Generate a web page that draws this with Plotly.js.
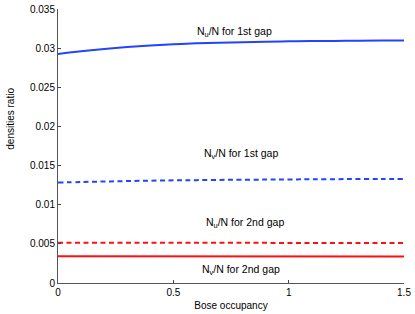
<!DOCTYPE html>
<html>
<head>
<meta charset="utf-8">
<script src="https://cdn.plot.ly/plotly-3.0.1.min.js"></script>
<style>html,body{margin:0;padding:0;background:#fff;}#chart{width:415px;height:314px;}</style>
</head>
<body>
<div id="chart"></div>
<script>
var occupancy = [0, 0.1, 0.2, 0.3, 0.4, 0.5, 0.6, 0.75, 0.9, 1.0, 1.1, 1.25, 1.4, 1.5];
var nu1st = [0.02925, 0.0296, 0.0299, 0.03015, 0.03035, 0.0305, 0.03062, 0.03073, 0.03082, 0.03087, 0.0309, 0.03094, 0.03097, 0.03098];
var nv1st = [0.01283, 0.0129, 0.01296, 0.01302, 0.01307, 0.01311, 0.01314, 0.01318, 0.01321, 0.01323, 0.01325, 0.01327, 0.01329, 0.0133];
var nu2nd = [0.00515, 0.00515, 0.00514, 0.00514, 0.00514, 0.00513, 0.00513, 0.00513, 0.00512, 0.00512, 0.00512, 0.00511, 0.00511, 0.00511];
var nv2nd = [0.00341, 0.00341, 0.00341, 0.00341, 0.00341, 0.0034, 0.0034, 0.0034, 0.0034, 0.0034, 0.0034, 0.0034, 0.0034, 0.0034];

var labelTexts = ["N<sub>u</sub>/N for 1st gap", "N<sub>v</sub>/N for 1st gap", "N<sub>u</sub>/N for 2nd gap", "N<sub>v</sub>/N for 2nd gap"];
var labelX = [0.766, 0.795, 0.81, 0.795];
var labelY = [0.0321, 0.0165, 0.0077, 0.00166];

var blue = "#2244ff", red = "#ff1010";
var traces = [
  {x: occupancy, y: nu1st, mode: "lines", line: {color: blue, width: 2, shape: "spline"}},
  {x: occupancy, y: nv1st, mode: "lines", line: {color: blue, width: 2, dash: "5px,3.5px", shape: "spline"}},
  {x: occupancy, y: nu2nd, mode: "lines", line: {color: red, width: 2, dash: "5px,3.5px"}},
  {x: occupancy, y: nv2nd, mode: "lines", line: {color: red, width: 2}}
];

var annFont = {family: "Liberation Sans, Arial, sans-serif", size: 10.5, color: "#000"};
var annotations = labelTexts.map(function(t, i){
  return {x: labelX[i], y: labelY[i], xref: "x", yref: "y", text: t, showarrow: false, font: annFont};
});
annotations.push({xref: "paper", yref: "paper", x: -0.16, y: 0.6, text: "densities ratio", textangle: -90,
  showarrow: false, font: {family: "Liberation Sans, Arial, sans-serif", size: 10, color: "#000"}});

var axisFont = {family: "Liberation Sans, Arial, sans-serif", size: 10, color: "#000"};
var layout = {
  width: 415, height: 314,
  margin: {l: 58, r: 11, t: 9, b: 31},
  paper_bgcolor: "#fff", plot_bgcolor: "#fff",
  showlegend: false,
  xaxis: {range: [0, 1.5], tickvals: [0, 0.5, 1, 1.5], ticktext: ["0", "0.5", "1", "1.5"],
    ticks: "inside", ticklen: 3, tickcolor: "#444", showline: true, linecolor: "#555", linewidth: 1,
    showgrid: false, zeroline: false, tickfont: axisFont,
    title: {text: "Bose occupancy", font: axisFont, standoff: 4}},
  yaxis: {range: [0, 0.035], tickvals: [0, 0.005, 0.01, 0.015, 0.02, 0.025, 0.03, 0.035],
    ticktext: ["0", "0.005", "0.01", "0.015", "0.02", "0.025", "0.03", "0.035"],
    ticks: "inside", ticklen: 3, tickcolor: "#444", showline: true, linecolor: "#555", linewidth: 1,
    showgrid: false, zeroline: false, tickfont: axisFont},
  annotations: annotations
};
Plotly.newPlot("chart", traces, layout, {displayModeBar: false, staticPlot: true});
</script>
</body>
</html>
